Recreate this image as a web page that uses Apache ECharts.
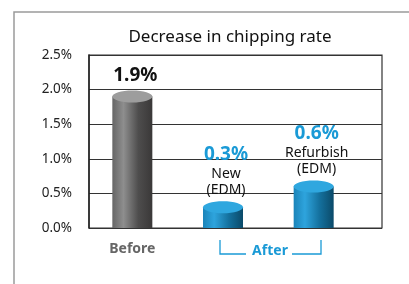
<!DOCTYPE html>
<html>
<head>
<meta charset="utf-8">
<script src="https://cdn.jsdelivr.net/npm/echarts@6/dist/echarts.min.js"></script>
<style>
  html, body { margin: 0; padding: 0; background: #fff; }
  #chart { width: 409px; height: 284px; }
</style>
</head>
<body>
<div id="chart"></div>
<script>
const categories = ['Before', 'New', 'Refurbish'];
const rates = [1.9, 0.3, 0.6];
const subLabels = ['', 'New\n(EDM)', 'Refurbish\n(EDM)'];
const groupLabel = 'After';

const FONT = '"Noto Sans", sans-serif';
const BLUE = '#1a9ad6';

const grayFill = new echarts.graphic.LinearGradient(0, 0, 1, 0, [
  { offset: 0, color: '#666666' },
  { offset: 0.28, color: '#8e8e8e' },
  { offset: 0.65, color: '#4e4d4d' },
  { offset: 1, color: '#3a3838' }
]);
const blueFill = new echarts.graphic.LinearGradient(0, 0, 1, 0, [
  { offset: 0, color: '#1b84b9' },
  { offset: 0.28, color: '#2ea4dd' },
  { offset: 0.65, color: '#14709d' },
  { offset: 1, color: '#0b4a69' }
]);

function renderCylinder(params, api) {
  const idx = api.value(0);
  const val = api.value(1);
  const top = api.coord([idx, val]);
  const base = api.coord([idx, 0]);
  const w = 40, ry = 6;
  const x0 = top[0] - w / 2;
  const before = idx === 0;
  const children = [
    { type: 'rect', shape: { x: x0, y: top[1], width: w, height: base[1] - top[1] },
      style: { fill: before ? grayFill : blueFill } },
    { type: 'ellipse', shape: { cx: top[0], cy: top[1], rx: w / 2, ry: ry },
      style: { fill: before ? '#9d9d9d' : '#2fa7df' } }
  ];
  let text = '{v|' + val.toFixed(1) + '%}';
  if (subLabels[idx]) {
    text += '\n' + subLabels[idx].split('\n').map(s => '{s|' + s + '}').join('\n');
  }
  children.push({
    type: 'text',
    style: {
      x: top[0] + 3, y: top[1] - ry - 3,
      text: text,
      align: 'center', verticalAlign: 'bottom',
      rich: {
        v: { fontSize: 19, fontWeight: 'bold', fontFamily: FONT, lineHeight: 24,
             fill: before ? '#111' : BLUE, align: 'center' },
        s: { fontSize: 14, fontFamily: FONT, lineHeight: 16, fill: '#111', align: 'center' }
      }
    }
  });
  return { type: 'group', children: children };
}

const chart = echarts.init(document.getElementById('chart'));
chart.setOption({
  backgroundColor: '#fff',
  animation: false,
  title: {
    text: 'Decrease in chipping rate',
    left: 225, top: 24, textAlign: 'center',
    textStyle: { fontSize: 17, fontWeight: 'normal', color: '#111', fontFamily: FONT }
  },
  grid: [
    { left: 89, right: 27, top: 55, bottom: 56, show: true, borderColor: '#333', borderWidth: 1.2 },
    { left: 87, right: 50, top: 55, bottom: 56 }
  ],
  xAxis: [
    { gridIndex: 0, type: 'value', min: 0, max: 1, show: false },
    { gridIndex: 1, type: 'category', data: categories,
      axisLine: { show: false }, axisTick: { show: false },
      axisLabel: {
        margin: 14, fontSize: 14, fontWeight: 'bold', color: '#666', fontFamily: FONT,
        formatter: v => (v === 'Before' ? v : '')
      } }
  ],
  yAxis: [
    { gridIndex: 0, type: 'value', min: 0, max: 2.5, interval: 0.5,
      axisLine: { show: true, lineStyle: { color: '#222', width: 1.5 } },
      axisTick: { show: false },
      axisLabel: { margin: 17, fontSize: 13.5, color: '#222', fontFamily: FONT,
                   formatter: v => v.toFixed(1) + '%' },
      splitLine: { lineStyle: { color: '#333', width: 1.2 } } },
    { gridIndex: 1, type: 'value', min: 0, max: 2.5, interval: 0.5, show: false }
  ],
  graphic: [
    { type: 'polyline', shape: { points: [[14, 284], [14, 12], [409, 12]] },
      style: { stroke: '#9a9a9a', lineWidth: 1.5, fill: null } },
    { type: 'polyline', shape: { points: [[220, 240], [220, 254], [246, 254]] },
      style: { stroke: BLUE, lineWidth: 1.3, fill: null } },
    { type: 'polyline', shape: { points: [[292, 254], [321, 254], [321, 240]] },
      style: { stroke: BLUE, lineWidth: 1.3, fill: null } },
    { type: 'text', x: 270, y: 251,
      style: { text: groupLabel, fill: BLUE, font: 'bold 14px ' + FONT,
               align: 'center', verticalAlign: 'middle' } }
  ],
  series: [
    {
      type: 'custom',
      xAxisIndex: 1, yAxisIndex: 1,
      renderItem: renderCylinder,
      data: rates.map((r, i) => [i, r])
    }
  ]
});
</script>
</body>
</html>
